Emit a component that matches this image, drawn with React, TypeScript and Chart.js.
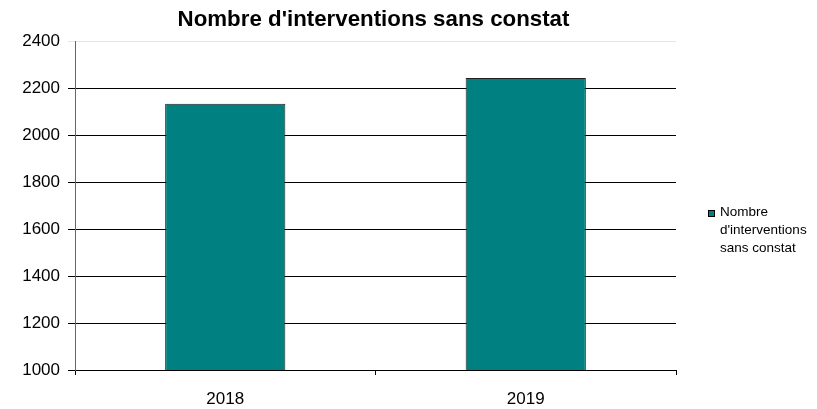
import React, { useEffect, useRef } from "react";
import { Chart, registerables } from "chart.js";

Chart.register(...registerables);

const TITLE = "Nombre d'interventions sans constat";
const categories = ["2018", "2019"];
const seriesName = "Nombre d'interventions sans constat";
const legendLines = ["Nombre", "d'interventions", "sans constat"];
const values = [2133, 2243];
const yMin = 1000;
const yMax = 2400;
const yStep = 200;

const FONT = "'Liberation Sans', Arial, sans-serif";

const customPlugin = {
  id: "customDecor",
  afterDraw(chart: any) {
    const ctx = chart.ctx;
    const ca = chart.chartArea;
    ctx.save();
    // title
    ctx.fillStyle = "#000";
    ctx.font = `bold 22.3px ${FONT}`;
    ctx.textAlign = "center";
    ctx.textBaseline = "middle";
    ctx.fillText(TITLE, (ca.left + ca.right) / 2 - 2, 20);
    // legend
    const sx = ca.right + 32;
    const sy = 210;
    ctx.fillStyle = "#008080";
    ctx.fillRect(sx, sy, 7, 7);
    ctx.strokeStyle = "#000";
    ctx.lineWidth = 1;
    ctx.strokeRect(sx + 0.5, sy + 0.5, 6, 6);
    ctx.fillStyle = "#000";
    ctx.font = `13.5px ${FONT}`;
    ctx.textAlign = "left";
    ctx.textBaseline = "middle";
    legendLines.forEach((l, i) => {
      ctx.fillText(l, sx + 12, sy + 2 + i * 18.3);
    });
    ctx.restore();
  },
};

export default function App() {
  const ref = useRef<HTMLCanvasElement>(null);
  useEffect(() => {
    document.body.style.margin = "0";
    const chart = new Chart(ref.current!, {
      type: "bar",
      data: {
        labels: categories,
        datasets: [
          {
            label: seriesName,
            data: values,
            backgroundColor: "#008080",
            borderColor: "#222",
            borderWidth: 1,
            barPercentage: 0.4,
            categoryPercentage: 1,
          },
        ],
      },
      options: {
        animation: false,
        responsive: false,
        maintainAspectRatio: false,
        layout: { padding: { left: 0, top: 41, right: 141, bottom: 0 } },
        plugins: {
          legend: { display: false },
          title: { display: false },
          tooltip: { enabled: false },
        },
        scales: {
          x: {
            afterFit(scale: any) {
              scale.height = 39;
            },
            grid: {
              offset: true,
              drawOnChartArea: false,
              drawTicks: true,
              tickLength: 5,
              color: "#000",
            },
            border: { display: true, color: "#000", width: 1 },
            ticks: {
              color: "#000",
              padding: 14,
              font: { family: FONT, size: 17 },
            },
          },
          y: {
            min: yMin,
            max: yMax,
            afterFit(scale: any) {
              scale.width = 75;
            },
            ticks: {
              stepSize: yStep,
              color: "#000",
              padding: 8,
              font: { family: FONT, size: 17 },
              callback: (v: any) => String(v),
            },
            grid: {
              color: (c: any) => (c.tick && c.tick.value === yMax ? "#e6e6e6" : "#000"),
              tickLength: 7,
              drawTicks: true,
            },
            border: { display: true, color: "#666", width: 1 },
          },
        },
      },
      plugins: [customPlugin],
    });
    return () => chart.destroy();
  }, []);
  return (
    <div style={{ position: "absolute", left: 0, top: 0, width: 817, height: 409, background: "#fff" }}>
      <canvas ref={ref} width={817} height={409} style={{ width: 817, height: 409 }} />
    </div>
  );
}
